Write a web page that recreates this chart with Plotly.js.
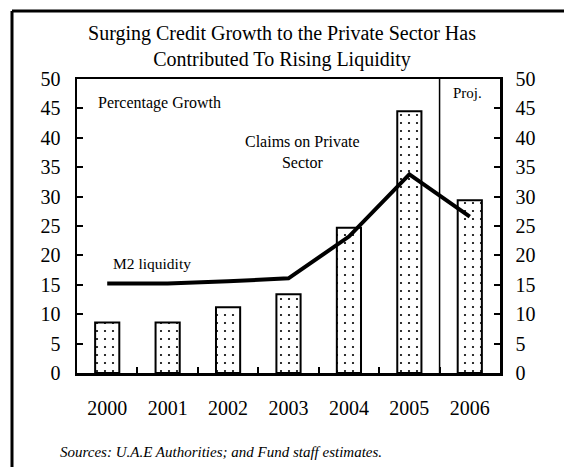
<!DOCTYPE html>
<html>
<head>
<meta charset="utf-8">
<script src="https://cdn.plot.ly/plotly-3.0.1.min.js"></script>
<style>html,body{margin:0;padding:0;background:#fff;}#chart{width:564px;height:467px;}</style>
</head>
<body>
<div id="chart"></div>
<script>
const years = ["2000", "2001", "2002", "2003", "2004", "2005", "2006"];
const claimsPrivate = [8.6, 8.6, 11.2, 13.4, 24.7, 44.5, 29.4];
const m2Liquidity = [15.2, 15.2, 15.6, 16.1, 23.2, 33.8, 26.6];
const yTicks = [0, 5, 10, 15, 20, 25, 30, 35, 40, 45, 50];

const serif = "Liberation Serif";

const L = 77, R = 500, T = 79, B = 373, W = 564, H = 467;
const px = x => (x - L) / (R - L);
const py = y => (B - y) / (B - T);

const traces = [
  {
    type: "bar", x: years, y: claimsPrivate, width: 0.4,
    marker: {color: "white", line: {color: "black", width: 2},
      pattern: {shape: ".", fgcolor: "black", bgcolor: "white", size: 8, solidity: 0.06}},
    hoverinfo: "skip"
  },
  {
    type: "scatter", mode: "lines", x: years, y: m2Liquidity,
    line: {color: "black", width: 4}, hoverinfo: "skip"
  },
  {
    type: "scatter", mode: "none", x: years, y: m2Liquidity, yaxis: "y2", hoverinfo: "skip"
  }
];

const axisCommon = {
  range: [0, 50], tickvals: yTicks, ticks: "inside", ticklen: 6, tickwidth: 2,
  tickcolor: "black", showgrid: false, zeroline: false, showline: true,
  linecolor: "black", linewidth: 2.5, fixedrange: true,
  tickfont: {family: serif, size: 20, color: "black"}
};

const layout = {
  width: W, height: H,
  margin: {l: L, r: W - R, t: T, b: H - B},
  paper_bgcolor: "white", plot_bgcolor: "white",
  font: {family: serif, color: "black"},
  showlegend: false, bargap: 0.6,
  title: {
    text: "Surging Credit Growth to the Private Sector Has<br>Contributed To Rising Liquidity",
    font: {family: serif, size: 20, color: "black"},
    x: 0.5, xanchor: "center", y: 1 - 40 / H, yanchor: "top"
  },
  xaxis: {
    type: "category", tickson: "boundaries", ticks: "inside", ticklen: 6, tickwidth: 2,
    tickcolor: "black", showline: true, linecolor: "black", linewidth: 2.5, mirror: true,
    showgrid: false, fixedrange: true, ticklabelstandoff: 15,
    tickfont: {family: serif, size: 20, color: "black"}
  },
  yaxis: Object.assign({}, axisCommon, {ticklabelstandoff: 10}),
  yaxis2: Object.assign({}, axisCommon, {overlaying: "y", side: "right", ticklabelstandoff: 9}),
  shapes: [
    {type: "line", xref: "x", yref: "paper", x0: 5.5, x1: 5.5, y0: 0, y1: 1,
      line: {color: "black", width: 1.5}},
    {type: "line", xref: "paper", yref: "paper", x0: px(12), x1: px(12), y0: py(H + 20), y1: py(11),
      line: {color: "black", width: 3}},
    {type: "line", xref: "paper", yref: "paper", x0: px(12), x1: px(W + 20), y0: py(11), y1: py(11),
      line: {color: "black", width: 3}}
  ],
  annotations: [
    {text: "Percentage Growth", xref: "paper", yref: "paper", x: px(96), y: py(103),
      xanchor: "left", yanchor: "middle", showarrow: false,
      font: {family: serif, size: 16, color: "black"}},
    {text: "Claims on Private<br>Sector", xref: "paper", yref: "paper", x: px(302), y: py(152),
      xanchor: "center", yanchor: "middle", showarrow: false, align: "center",
      font: {family: serif, size: 16, color: "black"}},
    {text: "M2 liquidity", xref: "paper", yref: "paper", x: px(111), y: py(263),
      xanchor: "left", yanchor: "middle", showarrow: false,
      font: {family: serif, size: 15.5, color: "black"}},
    {text: "Proj.", xref: "paper", yref: "paper", x: px(467), y: py(93),
      xanchor: "center", yanchor: "middle", showarrow: false,
      font: {family: serif, size: 15, color: "black"}},
    {text: "<i>Sources: U.A.E Authorities; and Fund staff estimates.</i>", xref: "paper", yref: "paper",
      x: px(58), y: py(452), xanchor: "left", yanchor: "middle", showarrow: false,
      font: {family: serif, size: 15, color: "black"}}
  ]
};

Plotly.newPlot("chart", traces, layout, {displayModeBar: false, staticPlot: true});
</script>
</body>
</html>
